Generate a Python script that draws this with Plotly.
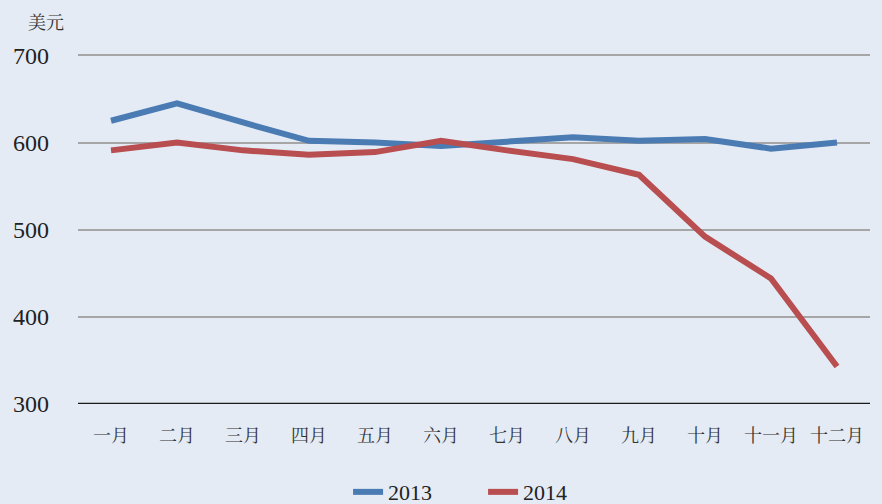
import plotly.graph_objects as go

months = ["一月", "二月", "三月", "四月", "五月", "六月", "七月", "八月", "九月", "十月", "十一月", "十二月"]
y2013 = [625, 645, 623, 602, 600, 596, 601, 606, 602, 604, 593, 600]
y2014 = [591, 600, 591, 586, 589, 602, 591, 581, 563, 492, 444, 343]
yticks = [300, 400, 500, 600, 700]

SERIF = "Liberation Serif, Times New Roman, Noto Serif CJK SC, Noto Sans CJK SC, serif"
CJK = "Noto Serif CJK SC, Noto Sans CJK SC, serif"

fig = go.Figure()
fig.add_trace(go.Scatter(x=months, y=y2013, mode="lines", name="2013",
                         line=dict(color="#4A7BB3", width=6)))
fig.add_trace(go.Scatter(x=months, y=y2014, mode="lines", name="2014",
                         line=dict(color="#B84E50", width=6)))

fig.update_layout(
    width=882, height=504,
    paper_bgcolor="#E4EBF5", plot_bgcolor="#E4EBF5",
    margin=dict(l=78, r=12, t=51, b=100, autoexpand=False),
    font=dict(family=SERIF, color="#222222"),
    showlegend=True,
    legend=dict(orientation="h", x=0.341, xanchor="left", y=-0.19, yanchor="top",
                entrywidth=90, entrywidthmode="pixels",
                font=dict(size=22, family=SERIF), bgcolor="rgba(0,0,0,0)"),
    xaxis=dict(type="category", range=[-0.5, 11.5], showgrid=False, zeroline=False,
               showline=False, ticks="", tickfont=dict(size=18, family=CJK, color="#333333"),
               ticklabelstandoff=19, automargin=False),
    yaxis=dict(range=[300, 705], tickvals=yticks, showgrid=True, gridcolor="#A6A6A6",
               gridwidth=2, zeroline=False, showline=False, ticks="",
               tickfont=dict(size=24, family=SERIF, color="#222222"),
               ticklabelstandoff=28, automargin=False),
    shapes=[dict(type="line", xref="paper", yref="y", x0=0, x1=1, y0=300, y1=300,
                 line=dict(color="#1A1A1A", width=2.5))],
    annotations=[dict(text="美元", xref="paper", yref="paper", x=-0.015, y=1.0, yshift=30,
                      xanchor="right", yanchor="middle", showarrow=False,
                      font=dict(size=18, family=CJK, color="#333333"))],
)

fig.write_html("out.html", config={"displayModeBar": False},
               post_script="document.body.style.margin='0';")
